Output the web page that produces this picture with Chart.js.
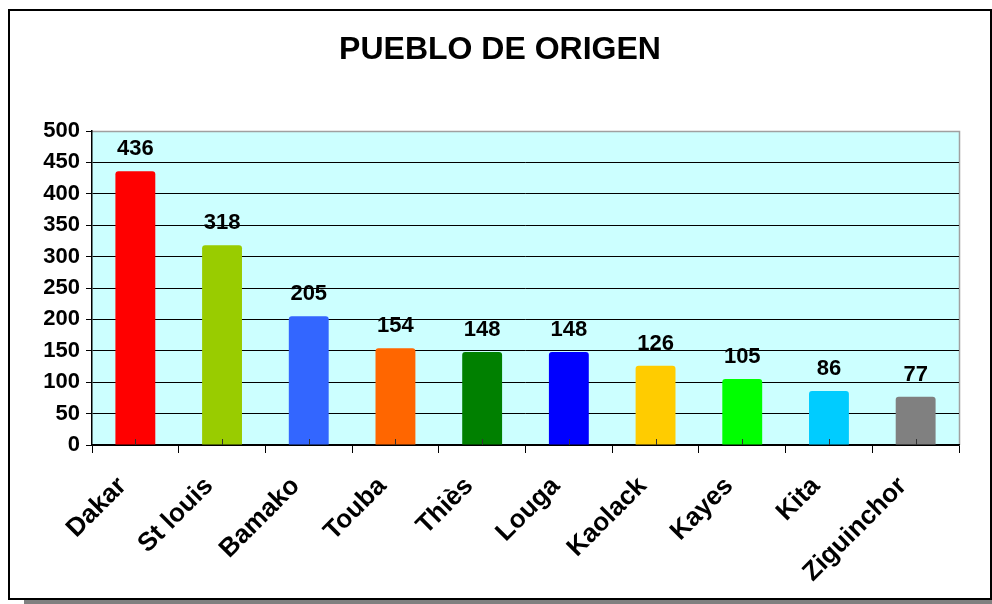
<!DOCTYPE html>
<html>
<head>
<meta charset="utf-8">
<script src="https://cdn.jsdelivr.net/npm/chart.js@4"></script>
<style>
  html, body { margin: 0; padding: 0; background: #fff; }
  body { width: 992px; height: 604px; position: relative; overflow: hidden; }
  #frame {
    position: absolute; left: 8px; top: 9px; width: 980px; height: 587px;
    border: 2px solid #000; box-shadow: 16px 7px 0 #808080; background: #fff;
  }
  #wrap { position: absolute; left: 0; top: 0; width: 992px; height: 604px; }
</style>
</head>
<body>
<div id="frame"></div>
<div id="wrap"><canvas id="c" width="992" height="604"></canvas></div>
<script>
// ── Data ──────────────────────────────────────────────────────────────────────
const towns  = ['Dakar', 'St louis', 'Bamako', 'Touba', 'Thiès', 'Louga', 'Kaolack', 'Kayes', 'Kita', 'Ziguinchor'];
const counts = [436, 318, 205, 154, 148, 148, 126, 105, 86, 77];
const colors = ['#FF0000', '#99CC00', '#3366FF', '#FF6600', '#008000', '#0000FF', '#FFCC00', '#00FF00', '#00CCFF', '#808080'];
const yTicks = [0, 50, 100, 150, 200, 250, 300, 350, 400, 450, 500];

const FONT = '"Liberation Sans", Arial, sans-serif';

// ── Plot background + border ─────────────────────────────────────────────────
const plotBg = {
  id: 'plotBg',
  beforeDraw(chart) {
    const { ctx, chartArea: a } = chart;
    ctx.save();
    ctx.fillStyle = '#CCFFFF';
    ctx.fillRect(a.left, a.top, a.right - a.left, a.bottom - a.top);
    ctx.strokeStyle = '#A0A0A0';
    ctx.lineWidth = 1.5;
    ctx.beginPath();
    ctx.moveTo(a.left, a.top + 0.5);
    ctx.lineTo(a.right + 0.5, a.top + 0.5);
    ctx.lineTo(a.right + 0.5, a.bottom);
    ctx.stroke();
    ctx.restore();
  }
};

// ── Title + value labels ─────────────────────────────────────────────────────
const labelsPlugin = {
  id: 'labelsPlugin',
  afterDatasetsDraw(chart) {
    const { ctx, chartArea: a } = chart;
    ctx.save();
    ctx.fillStyle = '#000';
    ctx.textAlign = 'center';
    ctx.font = `bold 32px ${FONT}`;
    ctx.textBaseline = 'middle';
    ctx.fillText('PUEBLO DE ORIGEN', 500, 50);

    ctx.font = `bold 22px ${FONT}`;
    ctx.textBaseline = 'alphabetic';
    const meta = chart.getDatasetMeta(0);
    meta.data.forEach((bar, i) => {
      ctx.fillText(String(counts[i]), bar.x, bar.y - 16);
      // small centre tick at the base of each bar
      ctx.strokeStyle = '#333';
      ctx.lineWidth = 1;
      ctx.beginPath();
      ctx.moveTo(Math.round(bar.x) + 0.5, a.bottom);
      ctx.lineTo(Math.round(bar.x) + 0.5, a.bottom - 6);
      ctx.stroke();
    });
    ctx.restore();
  }
};

new Chart(document.getElementById('c').getContext('2d'), {
  type: 'bar',
  data: {
    labels: towns,
    datasets: [{
      data: counts,
      backgroundColor: colors,
      borderWidth: 0,
      borderRadius: 3,
      borderSkipped: 'bottom',
      categoryPercentage: 1,
      barPercentage: 0.46,
    }]
  },
  options: {
    responsive: false,
    animation: false,
    events: [],
    layout: { padding: { left: 0, right: 33, top: 131, bottom: 0 } },
    plugins: { legend: { display: false }, title: { display: false }, tooltip: { enabled: false } },
    scales: {
      x: {
        offset: true,
        afterFit: (s) => { s.height = 159; },
        grid: { offset: true, drawOnChartArea: false, tickLength: 8, color: '#000', tickColor: '#000' },
        border: { color: '#000', width: 1.5 },
        ticks: {
          color: '#000', minRotation: 45, maxRotation: 45, padding: 18, labelOffset: -13,
          font: { family: FONT, size: 26, weight: 'bold' }
        }
      },
      y: {
        min: 0, max: 500,
        afterFit: (s) => { s.width = 92; },
        afterBuildTicks: (s) => { s.ticks = yTicks.map(v => ({ value: v })); },
        grid: {
          color: (c) => c.tick && c.tick.value === 500 ? 'rgba(0,0,0,0)' : '#000',
          tickColor: '#000', tickLength: 6, lineWidth: 1
        },
        border: { color: '#000', width: 1.5 },
        ticks: {
          color: '#000', padding: 6,
          font: { family: FONT, size: 22, weight: 'bold' }
        }
      }
    }
  },
  plugins: [plotBg, labelsPlugin]
});
</script>
</body>
</html>
